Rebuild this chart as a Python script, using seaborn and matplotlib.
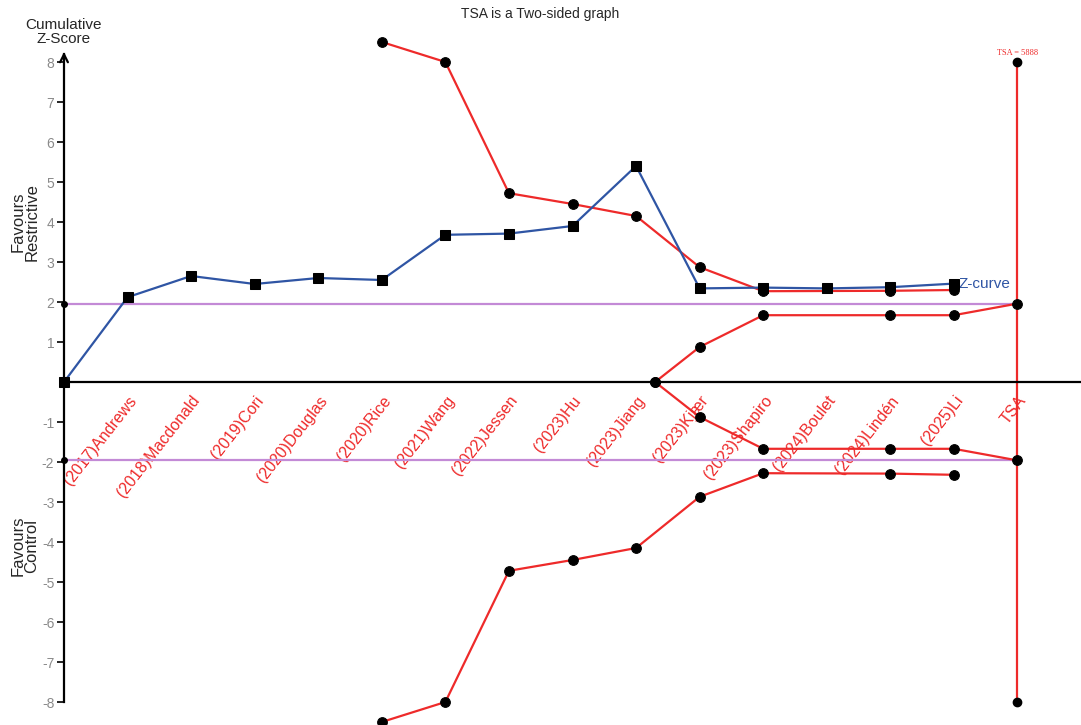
import matplotlib
matplotlib.use("Agg")
import matplotlib.pyplot as plt
import seaborn as sns
import pandas as pd

# ---- data ----
study_labels = ["(2017)Andrews", "(2018)Macdonald", "(2019)Cori", "(2020)Douglas",
                "(2020)Rice", "(2021)Wang", "(2022)Jessen", "(2023)Hu", "(2023)Jiang",
                "(2023)Kjær", "(2023)Shapiro", "(2024)Boulet", "(2024)Lindén",
                "(2025)Li", "TSA"]
tick_pos = list(range(1, 16))

z_x = [0, 1, 2, 3, 4, 5, 6, 7, 8, 9, 10, 11, 12, 13, 14]
z_vals = [0, 2.12, 2.65, 2.45, 2.60, 2.55, 3.68, 3.71, 3.90, 5.40, 2.34, 2.36, 2.34, 2.37, 2.46]

bound_x = [5, 6, 7, 8, 9, 10, 11, 13, 14]
upper_bound = [8.5, 8.0, 4.72, 4.45, 4.15, 2.87, 2.27, 2.28, 2.30]
lower_bound = [-8.5, -8.0, -4.72, -4.45, -4.15, -2.87, -2.28, -2.29, -2.32]

fut_x = [9.3, 10, 11, 13, 14, 15]
upper_fut = [0, 0.875, 1.67, 1.67, 1.67, 1.96]
lower_fut = [0, -0.875, -1.67, -1.67, -1.67, -1.96]

tsa_x = 15
tsa_limits = [-8, 8]
conv_z = 1.96
tsa_text = "TSA = 5888"

RED = "#ee2a2a"
BLUE = "#2f55a4"
PURPLE = "#c38ad6"

sns.set_style("white")
plt.rcParams['font.family'] = ['Liberation Sans', 'DejaVu Sans']
plt.rcParams['axes.unicode_minus'] = False

fig = plt.figure(figsize=(10.81, 7.25), dpi=100)
ax = fig.add_axes([64 / 1081, 0, 1 - 64 / 1081, 1])
ax.set_xlim(0, 16)
ax.set_ylim(-8.575, 9.55)

# conventional boundaries
ax.plot([0, tsa_x], [conv_z, conv_z], color=PURPLE, lw=1.6, zorder=1)
ax.plot([0, tsa_x], [-conv_z, -conv_z], color=PURPLE, lw=1.6, zorder=1)
ax.plot([0, 0], [conv_z, -conv_z], ls="none", marker="o", ms=4, color="black", zorder=5, clip_on=False)

# TSA vertical line
ax.plot([tsa_x, tsa_x], tsa_limits, color=RED, lw=1.6, zorder=2)
ax.plot([tsa_x, tsa_x], tsa_limits, ls="none", marker="o", ms=6, color="black", zorder=5)
ax.text(tsa_x, 8.12, tsa_text, color=RED, fontsize=6, ha="center", va="bottom",
        family=["Liberation Serif", "DejaVu Serif"])

# boundaries
df_ub = pd.DataFrame({"x": bound_x, "y": upper_bound})
df_lb = pd.DataFrame({"x": bound_x, "y": lower_bound})
df_uf = pd.DataFrame({"x": fut_x, "y": upper_fut})
df_lf = pd.DataFrame({"x": fut_x, "y": lower_fut})
for d in (df_ub, df_lb, df_uf, df_lf):
    sns.lineplot(data=d, x="x", y="y", ax=ax, color=RED, lw=1.6, marker="o",
                 markersize=7, markerfacecolor="black", markeredgecolor="black",
                 sort=False, zorder=3, clip_on=False)

# Z-curve
df_z = pd.DataFrame({"x": z_x, "y": z_vals})
sns.lineplot(data=df_z, x="x", y="y", ax=ax, color=BLUE, lw=1.6, marker="s",
             markersize=7, markerfacecolor="black", markeredgecolor="black",
             sort=False, zorder=4, clip_on=False)
ax.text(z_x[-1] + 0.08, z_vals[-1], "Z-curve", color=BLUE, fontsize=11, ha="left", va="center")

# axes styling
for s in ["top", "right"]:
    ax.spines[s].set_visible(False)
ax.spines["bottom"].set_position(("data", 0))
ax.spines["left"].set_position(("data", 0))
ax.spines["left"].set_bounds(-8, 8.2)
ax.spines["left"].set_linewidth(1.6)
ax.spines["bottom"].set_linewidth(1.6)
ax.spines["left"].set_color("black")
ax.spines["bottom"].set_color("black")
ax.annotate("", xy=(0, 8.32), xytext=(0, 8.0),
            arrowprops=dict(arrowstyle="->", color="black", lw=1.6, mutation_scale=14),
            annotation_clip=False)

ax.set_xticks(tick_pos)
ax.set_xticklabels(study_labels, rotation=52, ha="right", va="top",
                   rotation_mode="anchor", color=RED, fontsize=11.5)
ax.tick_params(axis="x", direction="out", length=5, width=1.2, color="black", pad=3)
ax.set_yticks([-8, -7, -6, -5, -4, -3, -2, -1, 1, 2, 3, 4, 5, 6, 7, 8])
ax.tick_params(axis="y", direction="out", length=5, width=1.2, color="black",
               labelcolor="#8a8a8a", labelsize=10, pad=2, left=True)
ax.set_xlabel("")
ax.set_ylabel("")
ax.grid(False)

fig.text(540 / 1081, 1 - 14 / 725, "TSA is a Two-sided graph", ha="center", va="center", fontsize=10)
fig.text(64 / 1081, 1 - 32 / 725, "Cumulative\nZ-Score", ha="center", va="center",
         fontsize=11, linespacing=1.0)
fig.text(25 / 1081, 1 - 222 / 725, "Favours\nRestrictive", ha="center", va="center",
         fontsize=12, rotation=90, linespacing=0.9)
fig.text(25 / 1081, 1 - 546 / 725, "Favours\nControl", ha="center", va="center",
         fontsize=12, rotation=90, linespacing=0.9)

fig.savefig("out.png", dpi=100)
